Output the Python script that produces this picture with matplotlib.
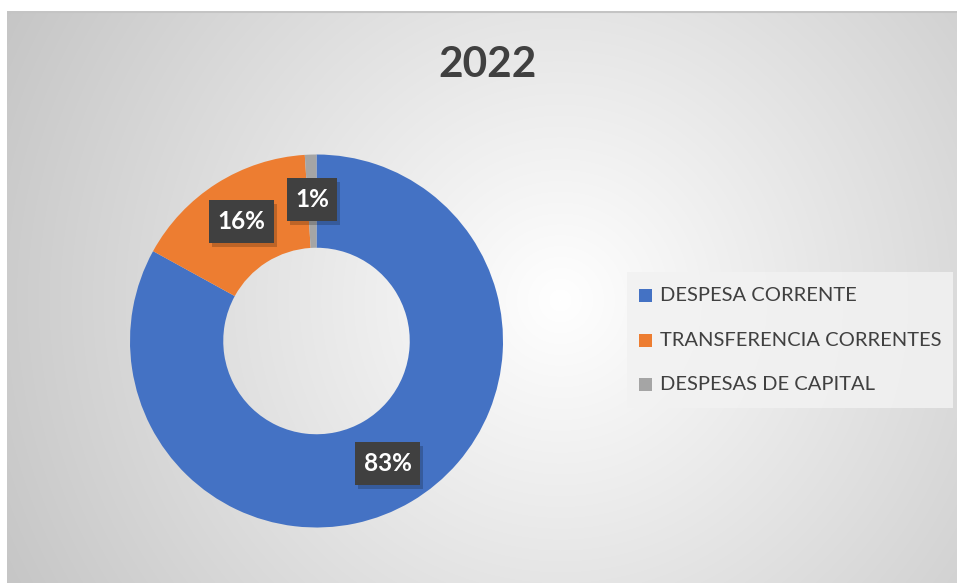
import numpy as np
import matplotlib.pyplot as plt
from matplotlib.patches import Rectangle

# dados do grafico
categorias = ['DESPESA CORRENTE', 'TRANSFERENCIA CORRENTES', 'DESPESAS DE CAPITAL']
valores = [83, 16, 1]
cores = ['#4472C4', '#ED7D31', '#A5A5A5']
titulo = '2022'

W, H = 957, 583
fig = plt.figure(figsize=(W / 100, H / 100), dpi=100)
fig.patch.set_facecolor('white')

# fundo com gradiente radial (area do grafico)
x0, y0 = 7, 11
bg = fig.add_axes([x0 / W, 0, (W - x0) / W, (H - y0) / H])
xx, yy = np.meshgrid(np.arange(x0, W), np.arange(y0, H))
d = np.sqrt((xx - 560) ** 2 + (yy - 300) ** 2)
g = np.clip(255 - 0.092 * d, 190, 255) / 255.0
bg.imshow(np.dstack([g, g, g]), aspect='auto', extent=[0, 1, 0, 1], origin='upper')
bg.set_xlim(0, 1)
bg.set_ylim(0, 1)
bg.axis('off')
bg.plot([0, 1], [0.998, 0.998], color='#c4c4c4', lw=1.5, transform=bg.transAxes)

# donut
cx, cy, r = 316.5, 341, 186.5
ax = fig.add_axes([(cx - r) / W, (H - cy - r) / H, 2 * r / W, 2 * r / H])
ax.set_facecolor('none')
wedges, _ = ax.pie(valores, colors=cores, startangle=90, counterclock=False,
                   radius=1, wedgeprops=dict(width=0.5, edgecolor='none'))
ax.set_xlim(-1, 1)
ax.set_ylim(-1, 1)
ax.set_aspect('equal')
ax.axis('off')

# rotulos de percentagem (caixa escura com sombra)
px = 1 / r  # um pixel em unidades do eixo
total = sum(valores)
ang = 90
for v in valores:
    meio = ang - 360 * v / total / 2
    ang -= 360 * v / total
    rx = 0.75 * np.cos(np.radians(meio))
    ry = 0.76 * np.sin(np.radians(meio))
    txt = '{}%'.format(v)
    bw = (15 * len(txt) + 20) * px
    bh = 43 * px
    ax.add_patch(Rectangle((rx - bw / 2 + 3 * px, ry - bh / 2 - 4 * px), bw, bh,
                           fc='black', ec='none', alpha=0.2, zorder=3))
    ax.add_patch(Rectangle((rx - bw / 2, ry - bh / 2), bw, bh,
                           fc='#404040', ec='none', zorder=4))
    ax.text(rx, ry, txt, ha='center', va='center', fontsize=17.5,
            fontweight='bold', family='Lato', color='white', zorder=5)

fig.text(488 / W, 1 - 65 / H, titulo, ha='center', va='center', fontsize=30.5,
         fontweight='bold', family='Lato', color='#404040')

# legenda
leg = fig.add_axes([627 / W, 1 - 408 / H, (953 - 627) / W, (408 - 272) / H])
leg.set_xlim(627, 953)
leg.set_ylim(408, 272)
leg.add_patch(Rectangle((627, 272), 326, 136, fc='#f2f2f2', ec='none', alpha=0.85))
for i, (c, nome) in enumerate(zip(cores, categorias)):
    yc = 296 + i * 44.5
    leg.add_patch(Rectangle((639, yc - 6.5), 13, 13, fc=c, ec='none'))
    leg.text(660, yc, nome, ha='left', va='center', fontsize=14.5,
             family='Lato', color='#404040')
leg.axis('off')

plt.savefig('out.png', dpi=100, facecolor='white')
